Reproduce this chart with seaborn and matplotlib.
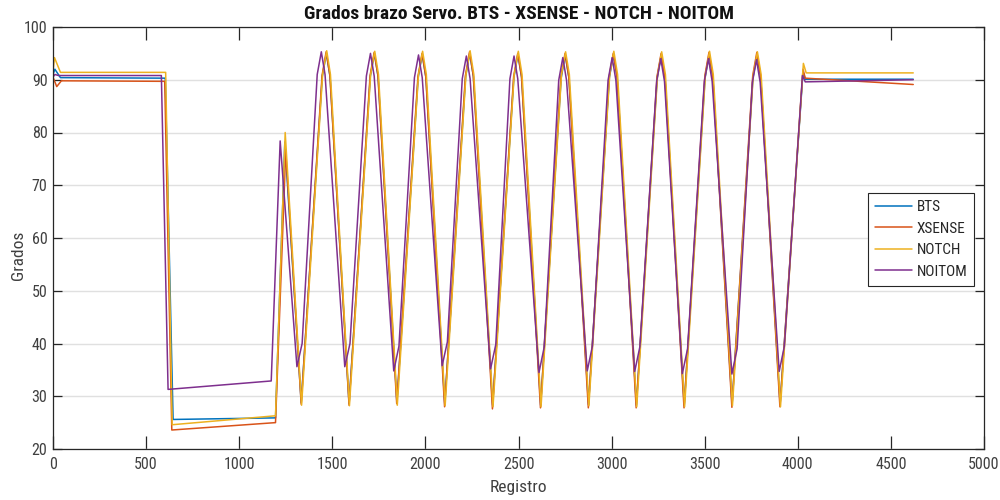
import matplotlib
matplotlib.use("Agg")
import matplotlib.pyplot as plt
from matplotlib import font_manager as fm
import seaborn as sns
import pandas as pd

# ---------------- data ----------------
series_names = ["BTS", "XSENSE", "NOTCH", "NOITOM"]

BTS_x = [0, 10, 40, 603, 645, 1195, 1245, 1333,
         1446, 1468, 1488, 1590,
         1704, 1726, 1746, 1847,
         1961, 1983, 2003, 2104,
         2216, 2238, 2258, 2361,
         2475, 2497, 2517, 2619,
         2729, 2751, 2771, 2876,
         2988, 3010, 3030, 3133,
         3245, 3267, 3287, 3390,
         3502, 3524, 3544, 3647,
         3759, 3781, 3801, 3905,
         4028, 4040, 4620]
BTS_y = [91.0, 92.0, 90.4, 90.3, 25.6, 25.9, 78.2, 28.8,
         90.6, 95.0, 90.6, 28.6,
         90.6, 95.0, 90.6, 28.8,
         90.4, 94.8, 90.4, 28.5,
         90.6, 95.0, 90.6, 28.3,
         90.4, 94.8, 90.4, 28.3,
         90.3, 94.7, 90.3, 28.4,
         90.4, 94.8, 90.4, 28.3,
         90.4, 94.8, 90.4, 28.3,
         90.4, 94.8, 90.4, 28.4,
         90.3, 94.7, 90.3, 28.5,
         91.5, 90.1, 90.1]

XSENSE_x = [0, 20, 45, 600, 638, 1195, 1250, 1333,
            1445, 1467, 1487, 1590,
            1703, 1725, 1745, 1846,
            1960, 1982, 2002, 2103,
            2215, 2237, 2257, 2360,
            2474, 2496, 2516, 2618,
            2728, 2750, 2770, 2875,
            2987, 3009, 3029, 3132,
            3244, 3266, 3286, 3389,
            3501, 3523, 3543, 3646,
            3758, 3780, 3800, 3904,
            4028, 4040, 4620]
XSENSE_y = [90.5, 88.7, 89.8, 89.7, 23.6, 25.0, 76.5, 28.5,
            90.8, 95.3, 90.8, 28.3,
            90.8, 95.2, 90.8, 28.6,
            90.6, 95.0, 90.6, 28.0,
            90.8, 95.3, 90.8, 27.6,
            90.6, 95.0, 90.6, 27.8,
            90.6, 95.0, 90.6, 27.8,
            90.6, 95.0, 90.6, 27.8,
            90.6, 95.0, 90.6, 27.8,
            90.8, 95.2, 90.8, 27.9,
            90.8, 95.2, 90.8, 28.0,
            92.0, 90.3, 89.1]

NOTCH_x = [0, 8, 40, 605, 640, 1195, 1247, 1335,
           1448, 1470, 1490, 1592,
           1706, 1728, 1748, 1849,
           1963, 1985, 2005, 2106,
           2218, 2240, 2260, 2363,
           2477, 2499, 2519, 2621,
           2731, 2753, 2773, 2878,
           2990, 3012, 3032, 3135,
           3247, 3269, 3289, 3392,
           3504, 3526, 3546, 3649,
           3761, 3783, 3803, 3907,
           4030, 4045, 4620]
NOTCH_y = [91.5, 94.2, 91.4, 91.4, 24.6, 26.3, 80.0, 28.3,
           91.0, 95.5, 91.0, 28.2,
           91.0, 95.4, 91.0, 28.3,
           91.0, 95.4, 91.0, 28.2,
           91.0, 95.5, 91.0, 28.0,
           91.0, 95.4, 91.0, 28.0,
           91.0, 95.3, 91.0, 28.2,
           91.0, 95.4, 91.0, 28.0,
           91.0, 95.3, 91.0, 28.0,
           91.0, 95.4, 91.0, 28.2,
           91.0, 95.3, 91.0, 28.0,
           93.1, 91.3, 91.3]

NOITOM_x = [0, 10, 30, 582, 618, 1172, 1220, 1310, 1338,
            1419, 1441, 1461, 1567, 1595,
            1683, 1705, 1725, 1830, 1858,
            1941, 1963, 1983, 2090, 2118,
            2198, 2220, 2240, 2350, 2378,
            2454, 2476, 2496, 2610, 2638,
            2716, 2738, 2758, 2869, 2897,
            2981, 3003, 3023, 3124, 3152,
            3242, 3264, 3284, 3380, 3408,
            3498, 3520, 3540, 3646, 3674,
            3756, 3778, 3798, 3900, 3928,
            4025, 4040, 4620]
NOITOM_y = [90.5, 91.0, 90.8, 90.8, 31.3, 32.9, 78.4, 35.6, 40.0,
            91.0, 95.3, 91.0, 35.6, 40.0,
            90.7, 95.0, 90.7, 34.8, 39.5,
            90.4, 94.7, 90.4, 35.8, 40.3,
            90.2, 94.5, 90.2, 35.2, 39.8,
            90.2, 94.5, 90.2, 34.5, 39.3,
            89.9, 94.2, 89.9, 34.8, 39.5,
            89.9, 94.2, 89.9, 34.7, 39.4,
            89.7, 94.0, 89.7, 34.3, 39.0,
            89.7, 94.0, 89.7, 34.2, 39.0,
            89.5, 93.8, 89.5, 34.7, 39.5,
            90.8, 89.6, 90.0]

x_ticks = [0, 500, 1000, 1500, 2000, 2500, 3000, 3500, 4000, 4500, 5000]
y_ticks = [20, 30, 40, 50, 60, 70, 80, 90, 100]

title_text = "Grados brazo Servo. BTS - XSENSE - NOTCH - NOITOM"
x_label = "Registro"
y_label = "Grados"

# ---------------- build table ----------------
frames = []
for name, xs, ys in [("BTS", BTS_x, BTS_y), ("XSENSE", XSENSE_x, XSENSE_y),
                     ("NOTCH", NOTCH_x, NOTCH_y), ("NOITOM", NOITOM_x, NOITOM_y)]:
    frames.append(pd.DataFrame({"Registro": xs, "Grados": ys, "serie": name}))
df = pd.concat(frames, ignore_index=True)

palette = {"BTS": "#0072BD", "XSENSE": "#D95319", "NOTCH": "#EDB120", "NOITOM": "#7E2F8E"}

# ---------------- style ----------------
sns.set_theme(style="white")
names = {f.name for f in fm.fontManager.ttflist}
narrow = [n for n in ["Liberation Sans Narrow", "Arial Narrow", "Roboto Condensed",
                      "Open Sans Condensed", "DejaVu Sans Condensed"] if n in names]
if narrow:
    plt.rcParams["font.family"] = [narrow[0], "DejaVu Sans"]
    fs = 11.5
else:
    plt.rcParams["font.family"] = ["Liberation Sans", "DejaVu Sans"]
    fs = 10

fig = plt.figure(figsize=(10, 5), dpi=100)
ax = fig.add_axes([0.053, 0.102, 0.931, 0.844])

sns.lineplot(data=df, x="Registro", y="Grados", hue="serie", hue_order=series_names,
             palette=palette, sort=False, estimator=None, units="serie",
             linewidth=1.1, ax=ax, legend=True)

ax.set_xlim(0, 5000)
ax.set_ylim(20, 100)
ax.set_xticks(x_ticks)
ax.set_yticks(y_ticks)
ax.yaxis.grid(True, color="#e0e0e0", linewidth=1.0)
ax.xaxis.grid(False)
ax.set_axisbelow(True)

for s in ax.spines.values():
    s.set_visible(True)
    s.set_color("#262626")
    s.set_linewidth(0.9)

ax.tick_params(axis="x", direction="in", length=9.5, width=0.9, color="#262626",
               top=True, bottom=True, labelsize=fs, labelcolor="#404040", pad=6)
ax.tick_params(axis="y", direction="in", length=6.8, width=0.9, color="#262626",
               left=True, right=True, labelsize=fs, labelcolor="#404040", pad=4)

ax.set_xlabel(x_label, fontsize=fs + 1, color="#404040")
ax.xaxis.set_label_coords(0.5, -0.073)
ax.set_ylabel(y_label, fontsize=fs + 1, color="#404040")
ax.yaxis.set_label_coords(-0.029, 0.46)
ax.set_title(title_text, fontsize=fs + 2.5, fontweight="bold", color="#111111", pad=6)

leg = ax.legend(loc="upper right", bbox_to_anchor=(0.974, 0.614),
                bbox_transform=fig.transFigure, borderaxespad=0, frameon=True,
                fancybox=False, framealpha=1, edgecolor="#262626", fontsize=fs - 0.5,
                handlelength=2.4, labelspacing=0.5, borderpad=0.45, handletextpad=0.3)
leg.get_frame().set_linewidth(0.8)
for t in leg.get_texts():
    t.set_color("#262626")

fig.savefig("out.png", dpi=100)
